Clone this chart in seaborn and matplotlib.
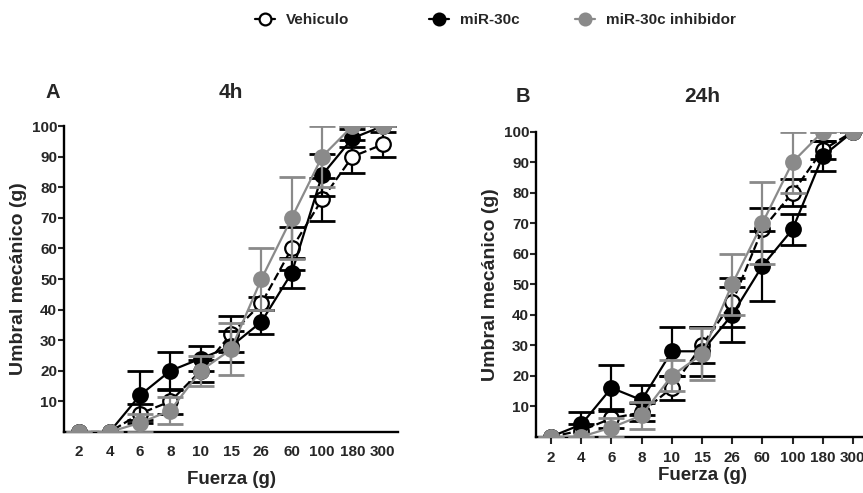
import numpy as np
import pandas as pd
import matplotlib
matplotlib.use("Agg")
import matplotlib.pyplot as plt
from matplotlib.lines import Line2D
import seaborn as sns

sns.set_style("white")
plt.rcParams['font.family'] = ['Liberation Sans', 'DejaVu Sans']
plt.rcParams['font.weight'] = 'bold'

fuerza = ["2", "4", "6", "8", "10", "15", "26", "60", "100", "180", "300"]
groups = ["Vehiculo", "miR-30c", "miR-30c inhibidor"]

# Panel A (4h)
a_veh = [0, 0, 6, 10, 20, 32, 42, 60, 76, 90, 94]
a_veh_sem = [0, 0, 3, 4, 3.5, 6, 2, 7, 7, 5.5, 4]
a_mir = [0, 0, 12, 20, 24, 28, 36, 52, 84, 96, 100]
a_mir_sem = [0, 0, 8, 6.3, 4, 5, 4, 5, 7, 3, 0]
a_inh = [0, 0, 3, 7, 20, 27, 50, 70, 90, 100, 100]
a_inh_sem = [0, 0, 3, 4.5, 5, 8.5, 10, 13.5, 10, 0, 0]

# Panel B (24h)
b_veh = [0, 2, 6, 8, 16, 30, 44, 68, 80, 94, 100]
b_veh_sem = [0, 2, 3, 3, 4, 6, 8, 7, 4.5, 3, 0]
b_mir = [0, 4, 16, 12, 28, 28, 40, 56, 68, 92, 100]
b_mir_sem = [0, 4, 7.5, 5, 8, 8, 9, 11.5, 5, 5, 0]
b_inh = [0, 0, 3, 7, 20, 27, 50, 70, 90, 100, 100]
b_inh_sem = [0, 0, 3, 4.5, 5, 8.5, 10, 13.5, 10, 0, 0]

GRAY = "#8a8a8a"
styles = {
    "Vehiculo": dict(color="black", ls="--", mfc="white", mec="black"),
    "miR-30c": dict(color="black", ls="-", mfc="black", mec="black"),
    "miR-30c inhibidor": dict(color=GRAY, ls="-", mfc=GRAY, mec=GRAY),
}

def make_df(veh, vs, mir, ms, inh, isem):
    rows = []
    for g, vals, sems in zip(groups, [veh, mir, inh], [vs, ms, isem]):
        for f, v, s in zip(fuerza, vals, sems):
            rows.append(dict(Fuerza=f, grupo=g, valor=v, err=s))
    return pd.DataFrame(rows)

dfA = make_df(a_veh, a_veh_sem, a_mir, a_mir_sem, a_inh, a_inh_sem)
dfB = make_df(b_veh, b_veh_sem, b_mir, b_mir_sem, b_inh, b_inh_sem)

fig = plt.figure(figsize=(8.63, 4.93), dpi=100)
axA = fig.add_axes([0.0742, 0.1237, 0.387, 0.6207])
axB = fig.add_axes([0.6211, 0.1142, 0.3847, 0.6187])

def draw(ax, df, xticks):
    pos = np.arange(len(fuerza))
    for z, g in enumerate(groups):
        st = styles[g]
        sub = df[df["grupo"] == g]
        ax.errorbar(pos, sub["valor"].values, yerr=sub["err"].values, fmt="none",
                    ecolor=st["color"], elinewidth=1.6, capsize=9.5, capthick=2,
                    zorder=2 + 2 * z)
        sns.lineplot(data=sub, x="Fuerza", y="valor", ax=ax, sort=False,
                     color=st["color"], linestyle=st["ls"], linewidth=1.6,
                     marker="o", markersize=10.5, markerfacecolor=st["mfc"],
                     markeredgecolor=st["mec"], markeredgewidth=1.6,
                     zorder=3 + 2 * z, legend=False, errorbar=None)
    ax.set_xlim(-0.5, 10.5)
    ax.set_ylim(0, 100)
    ax.set_yticks(np.arange(10, 101, 10))
    ax.set_xticks(pos)
    ax.set_xticklabels(fuerza)
    for side in ["top", "right"]:
        ax.spines[side].set_visible(False)
    for side in ["left", "bottom"]:
        ax.spines[side].set_linewidth(1.7)
        ax.spines[side].set_color("black")
    ax.tick_params(axis="y", direction="out", length=4, width=1.5, pad=1,
                   labelsize=11, left=True)
    ax.tick_params(axis="x", direction="out", length=5 if xticks else 0,
                   width=1.5, pad=5 if xticks else 9, labelsize=11, bottom=xticks)
    for lab in ax.get_xticklabels() + ax.get_yticklabels():
        lab.set_fontweight("bold")
    ax.set_xlabel("Fuerza (g)", fontsize=13.5, fontweight="bold",
                  labelpad=9 if not xticks else 2)
    ax.set_ylabel("Umbral mecánico (g)", fontsize=14, fontweight="bold", labelpad=3)

draw(axA, dfA, xticks=False)
draw(axB, dfB, xticks=True)

axA.text(-0.033, 1.111, "A", transform=axA.transAxes, ha="center", va="center",
         fontsize=14.5, fontweight="bold")
axA.text(0.5, 1.111, "4h", transform=axA.transAxes, ha="center", va="center",
         fontsize=15, fontweight="bold")
axB.text(-0.039, 1.114, "B", transform=axB.transAxes, ha="center", va="center",
         fontsize=14.5, fontweight="bold")
axB.text(0.5, 1.114, "24h", transform=axB.transAxes, ha="center", va="center",
         fontsize=15, fontweight="bold")

# legend, one entry each
leg_x = [255 / 863, 429 / 863, 575 / 863]
for g, lx in zip(groups, leg_x):
    st = styles[g]
    h = Line2D([], [], color=st["color"], ls="-", lw=1.6, marker="o",
               markersize=8.5, mfc=st["mfc"], mec=st["mec"], mew=1.6)
    leg = fig.legend([h], [g], loc="center left", bbox_to_anchor=(lx, 1 - 20 / 493),
                     frameon=False, handlelength=1.3, handletextpad=0.7,
                     borderaxespad=0, borderpad=0,
                     prop=dict(family="Liberation Sans", weight="bold", size=11))

fig.savefig("out.png", dpi=100)
